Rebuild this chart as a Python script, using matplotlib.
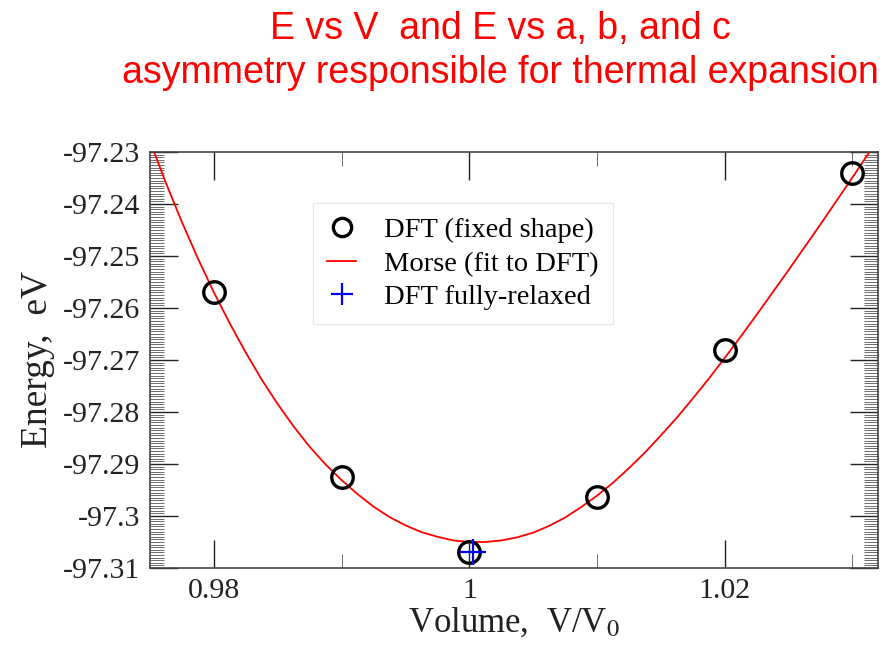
import matplotlib.pyplot as plt
from matplotlib.ticker import MultipleLocator

# DFT points (fixed shape)
vol_dft = [0.98, 0.99, 1.00, 1.01, 1.02, 1.03]
e_dft = [-97.2569, -97.2925, -97.3069, -97.2963, -97.2681, -97.2341]

# fully relaxed DFT point
vol_relax = [1.0003]
e_relax = [-97.3070]

# Morse fit
vol_fit = [0.975, 0.97625, 0.9775, 0.97875, 0.98, 0.98125, 0.9825, 0.98375,
           0.985, 0.98625, 0.9875, 0.98875, 0.99, 0.99125, 0.9925, 0.99375,
           0.995, 0.99625, 0.9975, 0.99875, 1.0, 1.00125, 1.0025, 1.00375,
           1.005, 1.00625, 1.0075, 1.00875, 1.01, 1.01125, 1.0125, 1.01375,
           1.015, 1.01625, 1.0175, 1.01875, 1.02, 1.02125, 1.0225, 1.02375,
           1.025, 1.02625, 1.0275, 1.02875, 1.03, 1.03125, 1.0325]
e_fit = [-97.2280, -97.2360, -97.2435, -97.2505, -97.2570, -97.2630, -97.2686,
         -97.2738, -97.2785, -97.2828, -97.2867, -97.2901, -97.2931, -97.2958,
         -97.2982, -97.3002, -97.3018, -97.3031, -97.3040, -97.3047, -97.3050,
         -97.3050, -97.3047, -97.3041, -97.3032, -97.3019, -97.3003, -97.2983,
         -97.2961, -97.2936, -97.2908, -97.2878, -97.2845, -97.2811, -97.2774,
         -97.2736, -97.2696, -97.2655, -97.2613, -97.2570, -97.2527, -97.2483,
         -97.2439, -97.2394, -97.2349, -97.2303, -97.2257]

plt.rcParams['font.family'] = ['Liberation Serif', 'DejaVu Serif']
plt.rcParams['mathtext.fontset'] = 'stix'

fig = plt.figure(figsize=(8.91, 6.47), dpi=100)
ax = fig.add_axes([0.1684, 0.1221, 0.817, 0.643])

ax.plot(vol_fit, e_fit, color='red', lw=1.3, label='Morse (fit to DFT)', zorder=2)
ax.plot(vol_dft, e_dft, 'o', ms=15.5, mfc='none', mec='black', mew=2.4,
        label='DFT (fixed shape)', zorder=3)
ax.plot(vol_relax, e_relax, '+', ms=19, color='blue', mew=1.6,
        label='DFT fully-relaxed', zorder=4)

ax.set_xlim(0.975, 1.032)
ax.set_ylim(-97.31, -97.23)

ax.xaxis.set_minor_locator(MultipleLocator(0.01))
ax.yaxis.set_minor_locator(MultipleLocator(0.0005))
ax.set_xticks([0.98, 1.0, 1.02])
ax.set_xticklabels(['0.98', '1', '1.02'])
yt = [-97.31, -97.30, -97.29, -97.28, -97.27, -97.26, -97.25, -97.24, -97.23]
ax.set_yticks(yt)
ax.set_yticklabels(['-97.31', '-97.3', '-97.29', '-97.28', '-97.27',
                    '-97.26', '-97.25', '-97.24', '-97.23'])

ax.tick_params(which='both', direction='in', top=True, right=True,
               labelsize=21.5, colors='#222222')
ax.tick_params(which='major', length=20, width=1.0, pad=7)
ax.tick_params(which='minor', length=10, width=0.6, color='#555555')
for s in ax.spines.values():
    s.set_color('#444444')
    s.set_linewidth(1.2)

ax.set_xlabel('Volume,  V/V$_{0}$', fontsize=25, labelpad=2, color='#222222')
ax.set_ylabel('Energy,  eV', fontsize=27, labelpad=6, color='#222222')

handles, labels = ax.get_legend_handles_labels()
order = [1, 0, 2]
leg = ax.legend([handles[i] for i in order], [labels[i] for i in order],
                loc='upper left', bbox_to_anchor=(0.224, 0.877),
                borderaxespad=0, fontsize=20.5, fancybox=False,
                edgecolor='#e6e6e6', framealpha=1, handlelength=1.0,
                labelspacing=0.26, borderpad=0.5, handletextpad=1.0,
                markerscale=0.85)
leg.get_frame().set_linewidth(0.8)

fig.text(0.562, 0.955, 'E vs V  and E vs a, b, and c', color='red',
         fontsize=27, family='Liberation Sans', ha='center', va='center')
fig.text(0.562, 0.887, 'asymmetry responsible for thermal expansion',
         color='red', fontsize=27, family='Liberation Sans', ha='center',
         va='center')

plt.savefig('out.png', dpi=100)
plt.close()
